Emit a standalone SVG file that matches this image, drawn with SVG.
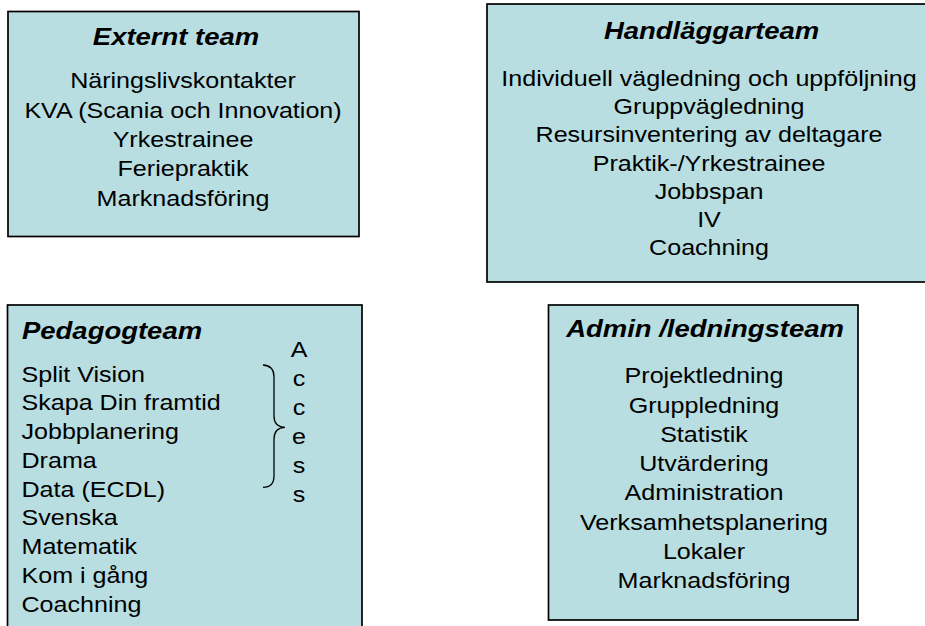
<svg xmlns="http://www.w3.org/2000/svg" width="925" height="626" viewBox="0 0 925 626">
<style>
.box{fill:#b8dee1;stroke:#000;stroke-width:1.7}
.t{font-family:"Liberation Sans",Arial,sans-serif;font-size:22px;fill:#000}
.h{font-family:"Liberation Sans",Arial,sans-serif;font-size:24px;font-weight:bold;font-style:italic;fill:#000}
.c{text-anchor:middle}
.brace{fill:none;stroke:#000;stroke-width:1.3}
</style>
<rect width="925" height="626" fill="#fff"/>
<g id="externt-team">
<rect class="box" x="8" y="11.5" width="351" height="225"/>
<text class="h c" transform="translate(176,45) scale(1.145,1)">Externt team</text>
<g transform="translate(183,0) scale(1.14,1)">
<text class="t c" x="0" y="88.5">Näringslivskontakter</text>
<text class="t c" x="0" y="117.8">KVA (Scania och Innovation)</text>
<text class="t c" x="0" y="147.1">Yrkestrainee</text>
<text class="t c" x="0" y="176.4">Feriepraktik</text>
<text class="t c" x="0" y="205.7">Marknadsföring</text>
</g>
</g>
<g id="handlaggarteam">
<rect class="box" x="487" y="4" width="450" height="278"/>
<text class="h c" transform="translate(711.5,39.3) scale(1.145,1)">Handläggarteam</text>
<g transform="translate(709,0) scale(1.14,1)">
<text class="t c" x="0" y="86">Individuell vägledning och uppföljning</text>
<text class="t c" x="0" y="114.2">Gruppvägledning</text>
<text class="t c" x="0" y="142.4">Resursinventering av deltagare</text>
<text class="t c" x="0" y="170.6">Praktik-/Yrkestrainee</text>
<text class="t c" x="0" y="198.8">Jobbspan</text>
<text class="t c" x="0" y="227">IV</text>
<text class="t c" x="0" y="255.2">Coachning</text>
</g>
</g>
<g id="pedagogteam">
<rect class="box" x="7.5" y="305" width="354.5" height="330"/>
<text class="h" transform="translate(22,339.3) scale(1.145,1)">Pedagogteam</text>
<g transform="translate(21.5,0) scale(1.14,1)">
<text class="t" x="0" y="381.7">Split Vision</text>
<text class="t" x="0" y="410.4">Skapa Din framtid</text>
<text class="t" x="0" y="439.2">Jobbplanering</text>
<text class="t" x="0" y="467.9">Drama</text>
<text class="t" x="0" y="496.7">Data (ECDL)</text>
<text class="t" x="0" y="525.4">Svenska</text>
<text class="t" x="0" y="554.2">Matematik</text>
<text class="t" x="0" y="582.9">Kom i gång</text>
<text class="t" x="0" y="611.7">Coachning</text>
</g>
<g transform="translate(299,0) scale(1.14,1)">
<text class="t c" x="0" y="357.3">A</text>
<text class="t c" x="0" y="386.3">c</text>
<text class="t c" x="0" y="415.3">c</text>
<text class="t c" x="0" y="444.3">e</text>
<text class="t c" x="0" y="473.3">s</text>
<text class="t c" x="0" y="502.3">s</text>
</g>
<path class="brace" d="M263,365 Q274,365.5 274,377 L274,416 Q274,427 285,427.3 Q274,427.8 274,439 L274,476 Q274,487.3 263,487.3"/>
</g>
<g id="admin-ledningsteam">
<rect class="box" x="548.5" y="305" width="309.5" height="315"/>
<text class="h c" transform="translate(705,336.7) scale(1.145,1)">Admin /ledningsteam</text>
<g transform="translate(704,0) scale(1.14,1)">
<text class="t c" x="0" y="383.3">Projektledning</text>
<text class="t c" x="0" y="412.6">Gruppledning</text>
<text class="t c" x="0" y="441.9">Statistik</text>
<text class="t c" x="0" y="471.2">Utvärdering</text>
<text class="t c" x="0" y="500.4">Administration</text>
<text class="t c" x="0" y="529.7">Verksamhetsplanering</text>
<text class="t c" x="0" y="559">Lokaler</text>
<text class="t c" x="0" y="588.3">Marknadsföring</text>
</g>
</g>
<g id="connectors"></g>
</svg>
